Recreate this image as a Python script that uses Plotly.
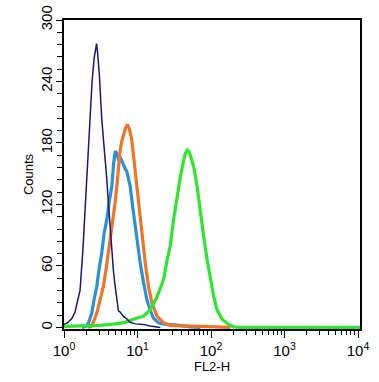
import numpy as np
import plotly.graph_objects as go

# log10(FL2-H) positions and counts
navy_log = [0.000, 0.055, 0.109, 0.150, 0.184, 0.218, 0.255, 0.286, 0.310, 0.332, 0.355, 0.382,
            0.409, 0.430, 0.443, 0.460, 0.482, 0.514, 0.536, 0.559, 0.582, 0.604, 0.628, 0.651,
            0.673, 0.696, 0.719, 0.741, 0.764, 0.805, 0.860, 0.900, 0.969, 1.078, 1.173, 1.241, 1.310]
navy_cnt = [3, 5, 9, 15, 26, 36, 73, 112, 145, 180, 205, 240,
            262, 272, 277, 266, 245, 203, 185, 170, 145, 121, 97, 73,
            55, 40, 25, 16, 15, 11, 8, 5, 3.5, 3, 1.5, 0.5, 0]

blue_log = [0.246, 0.310, 0.341, 0.378, 0.409, 0.446, 0.477, 0.514, 0.546, 0.582, 0.614, 0.651,
            0.675, 0.696, 0.719, 0.744, 0.771, 0.798, 0.825, 0.855, 0.900, 0.945, 0.992, 1.037,
            1.082, 1.128, 1.173, 1.218, 1.286, 1.378, 1.514, 1.610, 1.719, 1.855]
blue_cnt = [0, 1.5, 6, 14, 27, 40, 57, 73, 92, 105, 122, 138,
            160, 172, 170, 163, 165, 160, 156, 152, 138, 112, 86, 63,
            44, 27, 17, 9, 4.5, 3, 2.5, 1.5, 0.5, 0]

orange_log = [0.327, 0.378, 0.409, 0.446, 0.491, 0.536, 0.573, 0.604, 0.641, 0.673, 0.696, 0.719,
              0.741, 0.764, 0.791, 0.819, 0.839, 0.864, 0.891, 0.923, 0.945, 0.969, 1.014, 1.060,
              1.105, 1.150, 1.196, 1.265, 1.355, 1.446, 1.583, 1.787, 2.060, 2.265]
orange_cnt = [0, 1.5, 7, 14, 27, 40, 57, 73, 90, 105, 122, 138,
              155, 173, 183, 190, 195, 198, 193, 183, 168, 154, 121, 89,
              63, 40, 24, 11, 4.5, 2, 1.5, 1, 0.5, 0]

green_log = [0.000, 0.218, 0.491, 0.696, 0.832, 0.945, 1.082, 1.173, 1.218, 1.265, 1.310, 1.355,
             1.401, 1.446, 1.491, 1.537, 1.583, 1.628, 1.651, 1.674, 1.698, 1.719, 1.764, 1.810,
             1.855, 1.900, 1.947, 1.992, 2.037, 2.083, 2.151, 2.241, 2.306, 2.401, 4.027]
green_cnt = [1, 1.5, 2, 3.5, 5, 8, 11, 17, 23, 30, 38, 47,
             65, 80, 105, 128, 147, 163, 170, 173, 172, 168, 157, 138,
             112, 89, 66, 47, 30, 17, 8, 3, 0.5, 0, 0]

x_tick_vals = [1, 10, 100, 1000, 10000]
x_tick_text = ["10<sup>0</sup>", "10<sup>1</sup>", "10<sup>2</sup>", "10<sup>3</sup>", "10<sup>4</sup>"]
y_tick_vals = [0, 60, 120, 180, 240, 300]

fig = go.Figure()
series = [
    (blue_log, blue_cnt, "#2a90dc", 3.2),
    (orange_log, orange_cnt, "#f07424", 3.2),
    (green_log, green_cnt, "#2fe62f", 3.2),
    (navy_log, navy_cnt, "#18187e", 1.5),
]
for lg, cnt, col, w in series:
    fig.add_trace(go.Scatter(x=np.power(10.0, np.array(lg)), y=cnt, mode="lines",
                             line=dict(color=col, width=w), showlegend=False, hoverinfo="skip"))

font = "Liberation Sans, Arial, sans-serif"
fig.update_layout(
    width=379, height=382,
    margin=dict(l=64, r=19, t=20, b=53, autoexpand=False),
    paper_bgcolor="white", plot_bgcolor="white",
    font=dict(family=font, size=14, color="black"),
)
fig.update_xaxes(
    type="log", range=[0, 4.027], automargin=False,
    tickmode="array", tickvals=x_tick_vals, ticktext=x_tick_text,
    ticks="outside", ticklen=7, tickwidth=1.3, tickcolor="black",
    minor=dict(ticks="outside", ticklen=4, tickwidth=1.2, tickcolor="black", dtick="D1", showgrid=False),
    showline=True, linecolor="black", linewidth=1.6, mirror=True,
    showgrid=False, zeroline=False, ticklabeloverflow="allow",
    title=dict(text="FL2-H", font=dict(size=13), standoff=2),
    tickfont=dict(size=15),
)
fig.update_yaxes(
    range=[-1.5, 300], automargin=False,
    tickmode="array", tickvals=y_tick_vals, tickangle=-90,
    ticks="outside", ticklen=6, tickwidth=1.3, tickcolor="black",
    minor=dict(ticks="outside", ticklen=5, tickwidth=1.2, tickcolor="black", dtick=12, tick0=0, showgrid=False),
    showline=True, linecolor="black", linewidth=1.6, mirror=True,
    showgrid=False, zeroline=False, ticklabeloverflow="allow",
    ticklabelstandoff=-2,
    title=dict(text="Counts", font=dict(size=13), standoff=2),
    tickfont=dict(size=15),
)
fig.write_html("out.html", config={"displayModeBar": False},
               post_script="document.body.style.margin='0';")
